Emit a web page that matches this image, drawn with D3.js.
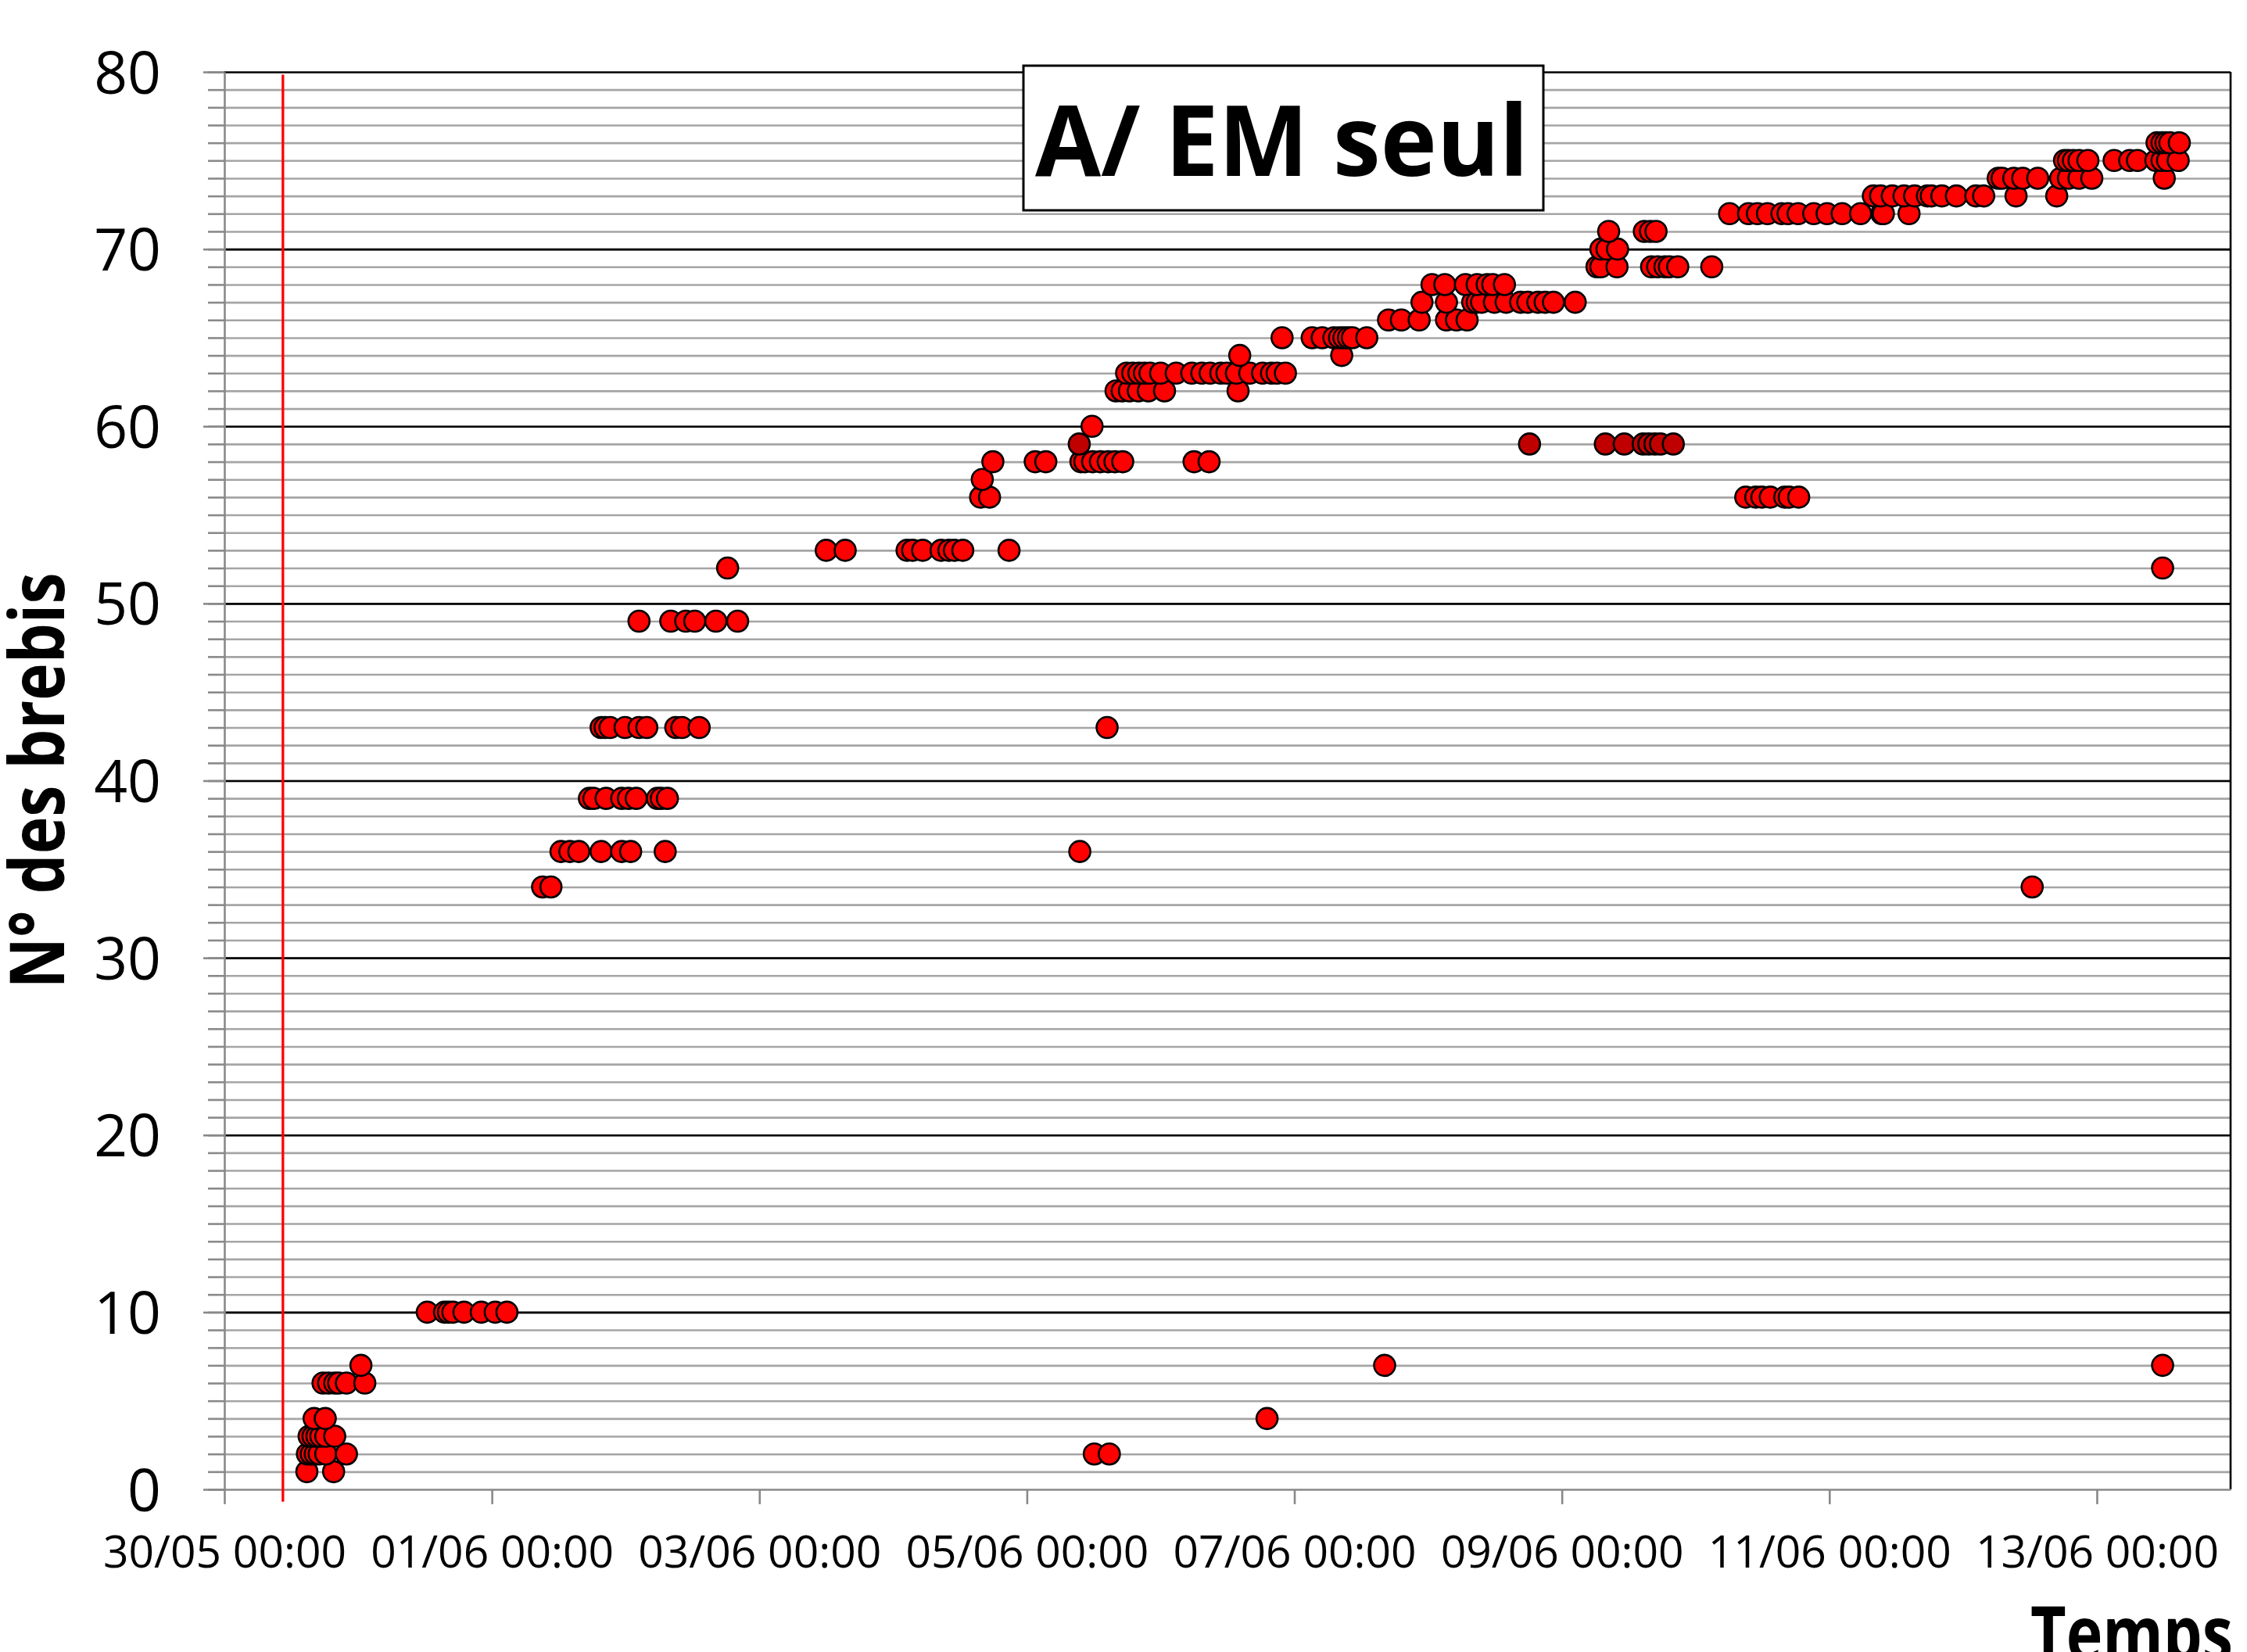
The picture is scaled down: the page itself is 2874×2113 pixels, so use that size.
<!DOCTYPE html>
<html>
<head>
<meta charset="utf-8">
<script src="https://cdn.jsdelivr.net/npm/d3@7"></script>
<style>
  body { margin: 0; background: #fff; }
  svg { display: block; }
</style>
</head>
<body>
<svg width="2874" height="2113"></svg>
<script>
// axes
var xTicks = ["30/05 00:00", "01/06 00:00", "03/06 00:00", "05/06 00:00", "07/06 00:00",
              "09/06 00:00", "11/06 00:00", "13/06 00:00"];
var xStart = "30/05 00:00", xEnd = "14/06 00:00";
var yMajor = [0, 10, 20, 30, 40, 50, 60, 70, 80];
var releaseTime = "30/05 10:30"; // ligne rouge

// visites : [n° brebis, [heures]]
var visitsRed = [
  [1, ["30/05 14:48", "30/05 19:36"]],
  [2, ["30/05 14:54", "30/05 15:36", "30/05 16:18", "30/05 17:00", "30/05 18:12", "30/05 21:54", "05/06 12:06", "05/06 14:48"]],
  [3, ["30/05 15:12", "30/05 15:54", "30/05 16:36", "30/05 17:18", "30/05 18:12", "30/05 19:48"]],
  [4, ["30/05 16:06", "30/05 18:06", "06/06 19:06"]],
  [6, ["30/05 17:42", "30/05 18:42", "30/05 19:48", "30/05 20:30", "30/05 21:54", "31/05 01:12"]],
  [7, ["31/05 00:30", "07/06 16:12", "13/06 11:48"]],
  [10, ["31/05 12:24", "31/05 15:30", "31/05 16:12", "31/05 17:00", "31/05 19:00", "31/05 22:06", "01/06 00:36", "01/06 02:42"]],
  [34, ["01/06 09:06", "01/06 10:36", "12/06 12:24"]],
  [36, ["01/06 12:24", "01/06 14:00", "01/06 15:36", "01/06 19:36", "01/06 23:18", "02/06 00:54", "02/06 07:06", "05/06 09:30"]],
  [39, ["01/06 17:30", "01/06 18:18", "01/06 20:30", "01/06 23:18", "02/06 00:30", "02/06 01:54", "02/06 05:42", "02/06 06:24", "02/06 07:30"]],
  [43, ["01/06 19:36", "01/06 20:18", "01/06 21:12", "01/06 23:54", "02/06 02:24", "02/06 03:48", "02/06 09:00", "02/06 10:06", "02/06 13:12", "05/06 14:24"]],
  [49, ["02/06 02:24", "02/06 08:06", "02/06 10:48", "02/06 12:24", "02/06 16:12", "02/06 20:06"]],
  [52, ["02/06 18:18", "13/06 11:48"]],
  [53, ["03/06 12:00", "03/06 15:24", "04/06 02:30", "04/06 03:30", "04/06 05:18", "04/06 08:36", "04/06 10:00", "04/06 11:00", "04/06 12:30", "04/06 20:48"]],
  [56, ["04/06 15:42", "04/06 17:18", "10/06 09:00", "10/06 10:48", "10/06 11:54", "10/06 13:24", "10/06 16:00", "10/06 16:48", "10/06 18:30"]],
  [57, ["04/06 16:00"]],
  [58, ["04/06 17:54", "05/06 01:30", "05/06 03:24", "05/06 09:42", "05/06 10:24", "05/06 11:48", "05/06 13:12", "05/06 14:36", "05/06 15:48", "05/06 17:12", "06/06 06:00", "06/06 08:42"]],
  [60, ["05/06 11:42"]],
  [62, ["05/06 16:00", "05/06 17:06", "05/06 18:24", "05/06 20:00", "05/06 21:48", "06/06 00:42", "06/06 13:54"]],
  [63, ["05/06 17:54", "05/06 19:00", "05/06 20:06", "05/06 21:06", "05/06 22:06", "06/06 00:00", "06/06 02:48", "06/06 05:36", "06/06 07:24",
        "06/06 08:54", "06/06 10:48", "06/06 11:54", "06/06 13:36", "06/06 16:00", "06/06 18:18", "06/06 19:54", "06/06 20:54", "06/06 22:24"]],
  [64, ["06/06 14:12", "07/06 08:30"]],
  [65, ["06/06 21:48", "07/06 03:12", "07/06 05:00", "07/06 07:06", "07/06 08:06", "07/06 08:54", "07/06 09:42", "07/06 10:24", "07/06 13:00"]],
  [66, ["07/06 16:54", "07/06 19:12", "07/06 22:24", "08/06 03:18", "08/06 05:06", "08/06 07:00"]],
  [67, ["07/06 22:54", "08/06 03:18", "08/06 08:00", "08/06 08:48", "08/06 09:36", "08/06 11:54", "08/06 14:00", "08/06 16:36", "08/06 17:54",
        "08/06 19:42", "08/06 21:00", "08/06 22:30", "09/06 02:24"]],
  [68, ["08/06 00:42", "08/06 03:00", "08/06 06:42", "08/06 08:48", "08/06 10:36", "08/06 11:36", "08/06 13:42"]],
  [69, ["09/06 06:18", "09/06 07:00", "09/06 09:54", "09/06 16:06", "09/06 17:12", "09/06 18:30", "09/06 19:18", "09/06 20:48", "10/06 02:54"]],
  [70, ["09/06 07:00", "09/06 08:06", "09/06 10:00"]],
  [71, ["09/06 08:24", "09/06 14:48", "09/06 15:54", "09/06 16:54"]],
  [72, ["10/06 06:06", "10/06 09:30", "10/06 11:06", "10/06 12:54", "10/06 15:30", "10/06 16:36", "10/06 18:24", "10/06 21:12", "10/06 23:36",
        "11/06 02:18", "11/06 05:36", "11/06 09:24", "11/06 09:42", "11/06 14:18"]],
  [73, ["11/06 07:54", "11/06 09:12", "11/06 11:18", "11/06 13:24", "11/06 15:18", "11/06 17:36", "11/06 18:18", "11/06 20:12", "11/06 22:48",
        "12/06 02:18", "12/06 03:42", "12/06 09:30", "12/06 16:48"]],
  [74, ["12/06 06:18", "12/06 07:00", "12/06 09:06", "12/06 10:42", "12/06 13:24", "12/06 17:30", "12/06 18:54", "12/06 20:48", "12/06 23:06", "13/06 12:06"]],
  [75, ["12/06 18:12", "12/06 18:54", "12/06 19:48", "12/06 20:48", "12/06 22:24", "13/06 03:06", "13/06 05:54", "13/06 07:18", "13/06 10:36",
        "13/06 11:42", "13/06 12:42", "13/06 14:36"]],
  [76, ["13/06 10:48", "13/06 11:42", "13/06 12:24", "13/06 13:06", "13/06 14:48"]]
];
var visitsDark = [
  [59, ["05/06 09:24", "08/06 18:12", "09/06 07:48", "09/06 11:12", "09/06 14:36", "09/06 15:36", "09/06 16:42", "09/06 17:42", "09/06 20:00"]]
];

var parse = d3.timeParse("%d/%m %H:%M");
var fmt = d3.timeFormat("%d/%m %H:%M");

function flat(rows){
    var out = [];
    rows.forEach(function(r){
        r[1].forEach(function(t){ out.push({t: parse(t), id: r[0]}); });
    });
    return out;
}

var svg = d3.select("svg"),
    margin = {top: 92, right: 21, bottom: 208, left: 287},
    width = +svg.attr("width") - margin.left - margin.right,
    height = +svg.attr("height") - margin.top - margin.bottom,
    g = svg.append("g").attr("transform", "translate(" + margin.left + "," + margin.top + ")");

var x = d3.scaleTime().domain([parse(xStart), parse(xEnd)]).range([0, width]);
var y = d3.scaleLinear().domain([0, 80]).range([height, 0]);

var axisGray = "#898989";

// grille mineure
g.append("g")
    .attr("class", "grid-minor")
    .call(d3.axisLeft(y).tickValues(d3.range(1, 80)).tickSize(-width).tickFormat(""))
    .call(function(s){
        s.select(".domain").remove();
        s.selectAll("line").attr("stroke", "#a5a5a5").attr("stroke-width", 2.6);
    });

// grille majeure
g.append("g")
    .attr("class", "grid-major")
    .call(d3.axisLeft(y).tickValues(yMajor.slice(1)).tickSize(-width).tickFormat(""))
    .call(function(s){
        s.select(".domain").remove();
        s.selectAll("line").attr("stroke", "#000").attr("stroke-width", 2.6);
    });

// bord droit
g.append("line")
    .attr("x1", width).attr("x2", width)
    .attr("y1", y(80)).attr("y2", y(0))
    .attr("stroke", "#000").attr("stroke-width", 2.6);

// axe y : petites graduations
g.append("g")
    .call(d3.axisLeft(y).tickValues(d3.range(0, 81)).tickSize(21).tickSizeOuter(0).tickFormat(""))
    .call(function(s){
        s.select(".domain").attr("stroke", axisGray).attr("stroke-width", 2.6);
        s.selectAll("line").attr("stroke", axisGray).attr("stroke-width", 2.6);
    });

// axe y : graduations principales
g.append("g")
    .call(d3.axisLeft(y).tickValues(yMajor).tickSize(27).tickSizeOuter(0).tickPadding(54))
    .call(function(s){
        s.select(".domain").remove();
        s.selectAll("line").attr("stroke", axisGray).attr("stroke-width", 2.6);
        s.selectAll("text")
            .attr("font-family", "'Open Sans', sans-serif")
            .attr("font-size", 75)
            .attr("fill", "#000")
            .attr("dy", "0.36em");
    });

// axe x
g.append("g")
    .attr("transform", "translate(0," + height + ")")
    .call(d3.axisBottom(x).tickValues(xTicks.map(parse)).tickSize(19).tickSizeOuter(0).tickPadding(41).tickFormat(fmt))
    .call(function(s){
        s.select(".domain").attr("stroke", axisGray).attr("stroke-width", 2.6);
        s.selectAll("line").attr("stroke", axisGray).attr("stroke-width", 2.6);
        s.selectAll("text")
            .attr("font-family", "'Open Sans', sans-serif")
            .attr("font-size", 57)
            .attr("fill", "#000")
            .attr("textLength", 311)
            .attr("lengthAdjust", "spacingAndGlyphs");
    });

// ligne rouge (lâcher)
g.append("line")
    .attr("x1", x(parse(releaseTime))).attr("x2", x(parse(releaseTime)))
    .attr("y1", y(79.85)).attr("y2", y(-0.7))
    .attr("stroke", "#ff0000").attr("stroke-width", 3.3);

// points
function dots(data, fill){
    g.append("g").selectAll("circle")
        .data(data)
        .enter().append("circle")
        .attr("cx", function(d){ return x(d.t); })
        .attr("cy", function(d){ return y(d.id); })
        .attr("r", 13.5)
        .attr("fill", fill)
        .attr("stroke", "#000")
        .attr("stroke-width", 2.6);
}
dots(flat(visitsRed), "#ff0000");
dots(flat(visitsDark), "#c00000");

// titre encadré
svg.append("rect")
    .attr("x", 1309).attr("y", 84)
    .attr("width", 665).attr("height", 185)
    .attr("fill", "#fff").attr("stroke", "#000").attr("stroke-width", 3);
svg.append("text")
    .attr("x", 1324).attr("y", 225)
    .attr("font-family", "'Open Sans', sans-serif")
    .attr("font-weight", "bold")
    .attr("font-size", 125)
    .attr("textLength", 631)
    .attr("lengthAdjust", "spacingAndGlyphs")
    .text("A/ EM seul");

// titres des axes
svg.append("text")
    .attr("transform", "translate(82," + (margin.top + height / 2) + ") rotate(-90)")
    .attr("text-anchor", "middle")
    .attr("font-family", "'Open Sans', sans-serif")
    .attr("font-weight", "bold")
    .attr("font-size", 96)
    .attr("textLength", 532)
    .attr("lengthAdjust", "spacingAndGlyphs")
    .text("N° des brebis");

svg.append("text")
    .attr("x", 2597).attr("y", 2124)
    .attr("font-family", "'Open Sans', sans-serif")
    .attr("font-weight", "bold")
    .attr("font-size", 96)
    .attr("textLength", 259)
    .attr("lengthAdjust", "spacingAndGlyphs")
    .text("Temps");
</script>
</body>
</html>
